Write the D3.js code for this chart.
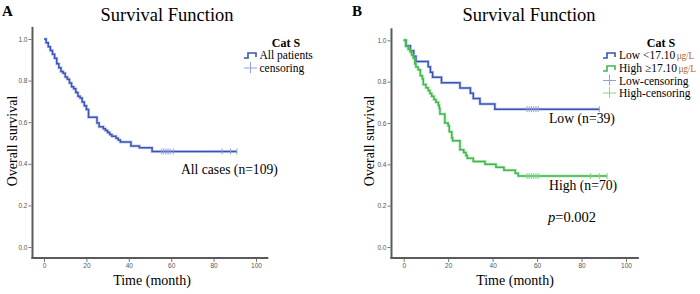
<!DOCTYPE html>
<html>
<head>
<meta charset="utf-8">
<script src="https://cdn.jsdelivr.net/npm/d3@7"></script>
<style>
  html, body { margin: 0; padding: 0; background: #fff; }
  svg { display: block; }
</style>
</head>
<body>
<svg id="chart" width="700" height="294"></svg>
<script>
// ---------------- DATA ----------------
const xTicks = [0, 20, 40, 60, 80, 100];
const yTicks = [0.0, 0.2, 0.4, 0.6, 0.8, 1.0];

// Panel A: all patients (n=109)
const allTimes = [0,1,2,3,4,5,6,7,8,9,10,11,12,13,14,15,16,17,18,19,20,21,25,26,28,29,30,31,32,34,35,36,41,45,51,91];
const allSurv  = [1,0.982,0.963,0.945,0.927,0.908,0.881,0.862,0.844,0.835,0.817,0.807,0.789,0.771,0.761,0.743,0.725,0.716,0.697,0.679,0.661,0.624,0.596,0.578,0.569,0.560,0.550,0.541,0.532,0.523,0.514,0.505,0.486,0.477,0.459,0.459];
const allCensor = [55.5,56.5,57.5,58.5,59.5,61,84,88,91];

// Panel B: Low group (n=39)
const lowTimes = [0,1,3,4.5,5.5,11,12,13,17,25.3,30,31.3,34.3,41,88];
const lowSurv  = [1,0.974,0.949,0.923,0.897,0.872,0.846,0.821,0.795,0.769,0.744,0.718,0.692,0.667,0.667];
const lowCensor = [55.5,56.5,57.5,58.5,59.5,60.5,88];

// Panel B: High group (n=70)
const highTimes = [0,1,2,3,3.6,4.3,5,5.5,6.5,7.5,8.4,8.8,10,11,11.8,12.6,13.6,14.5,15.6,16,16.3,18.5,20,20.5,21.6,22,25.3,27,28,28.6,31.3,36.6,41.5,45.1,50.2,51.5,91.5];
const highSurv  = [1,0.971,0.957,0.943,0.929,0.914,0.886,0.871,0.857,0.829,0.814,0.786,0.771,0.757,0.743,0.729,0.714,0.700,0.686,0.671,0.643,0.600,0.586,0.557,0.529,0.514,0.471,0.457,0.443,0.429,0.414,0.400,0.386,0.371,0.357,0.343,0.343];
const highCensor = [55.5,56.5,57.5,58.5,59.5,60.5,84,88,91.5];

// ---------------- DRAW ----------------
const SERIF = "'Liberation Serif','Times New Roman',serif";
const SANS = "'Liberation Sans',Arial,sans-serif";
const BLUE = "#3a54b4", BLUE_L = "#8fa0dd";
const GREEN = "#3cba48", GREEN_L = "#86d48e";

const svg = d3.select("#chart");

function survAt(times, surv, t) {
  const i = d3.bisectRight(times, t) - 1;
  return surv[Math.max(0, i)];
}

function panel(cfg) {
  const x = d3.scaleLinear().domain([0, 100]).range(cfg.xRange);
  const y = d3.scaleLinear().domain([0, 1]).range(cfg.yRange);
  const g = svg.append("g");

  const axisX = cfg.axisX, axisY = cfg.axisY;
  g.append("line").attr("x1", axisX).attr("x2", axisX)
    .attr("y1", y(1.058)).attr("y2", axisY + 1)
    .attr("stroke", "#5a5a5a").attr("stroke-width", 2);
  g.append("line").attr("x1", axisX - 1).attr("x2", x(105.8))
    .attr("y1", axisY).attr("y2", axisY)
    .attr("stroke", "#5a5a5a").attr("stroke-width", 2);

  const ya = g.append("g").attr("transform", `translate(${axisX - 1},0)`)
    .call(d3.axisLeft(y).tickValues(yTicks).tickFormat(d3.format(".1f")).tickSize(3).tickPadding(1));
  ya.select(".domain").remove();
  ya.selectAll("line").attr("stroke", "#777");
  ya.selectAll("text").attr("font-family", SANS).attr("font-size", 6.5).attr("fill", "#555");

  const xa = g.append("g").attr("transform", `translate(0,${axisY + 1})`)
    .call(d3.axisBottom(x).tickValues(xTicks).tickFormat(d3.format("d")).tickSize(3).tickPadding(1.5));
  xa.select(".domain").remove();
  xa.selectAll("line").attr("stroke", "#777");
  xa.selectAll("text").attr("font-family", SANS).attr("font-size", 6.5).attr("fill", "#555");

  const line = d3.line().x(d => x(d[0])).y(d => y(d[1])).curve(d3.curveStepAfter);
  cfg.series.forEach(s => {
    const pts = s.times.map((t, i) => [t, s.surv[i]]);
    g.append("path").attr("d", line(pts)).attr("fill", "none")
      .attr("stroke", s.light).attr("stroke-width", 3).attr("stroke-opacity", 0.5);
    g.append("path").attr("d", line(pts)).attr("fill", "none")
      .attr("stroke", s.color).attr("stroke-width", 1.5);
    g.selectAll(null).data(s.censor).enter().append("line")
      .attr("x1", d => x(d)).attr("x2", d => x(d))
      .attr("y1", d => y(survAt(s.times, s.surv, d)) - 3)
      .attr("y2", d => y(survAt(s.times, s.surv, d)) + 3)
      .attr("stroke", s.light).attr("stroke-width", 1);
  });

  svg.append("text").attr("x", cfg.letterX).attr("y", 16).text(cfg.letter)
    .attr("font-family", SERIF).attr("font-weight", "bold").attr("font-size", 15);
  svg.append("text").attr("x", cfg.titleX).attr("y", 21).attr("text-anchor", "middle")
    .text("Survival Function").attr("font-family", SERIF).attr("font-size", 18.5);
  svg.append("text").attr("transform", `translate(${cfg.ylabX},141) rotate(-90)`)
    .attr("text-anchor", "middle").text("Overall survival")
    .attr("font-family", SERIF).attr("font-size", 14);
  svg.append("text").attr("x", cfg.xlabX).attr("y", 285).attr("text-anchor", "middle")
    .text("Time (month)").attr("font-family", SERIF).attr("font-size", 14);

  const lg = svg.append("g");
  lg.append("text").attr("x", cfg.catX).attr("y", 46.5).attr("text-anchor", "middle")
    .text("Cat S").attr("font-family", SERIF).attr("font-weight", "bold").attr("font-size", 12);
  cfg.legend.forEach((it, i) => {
    const yy = cfg.legY[i];
    const ix = cfg.iconX;
    if (it.type === "line") {
      lg.append("path")
        .attr("d", `M${ix},${yy - 1} H${ix + 4} V${yy - 6} H${ix + 12} V${yy - 2}`)
        .attr("fill", "none").attr("stroke", it.color).attr("stroke-width", 1.6);
    } else {
      lg.append("line").attr("x1", ix).attr("x2", ix + 13).attr("y1", yy - 4).attr("y2", yy - 4)
        .attr("stroke", it.color).attr("stroke-width", 1);
      lg.append("line").attr("x1", ix + 6.5).attr("x2", ix + 6.5).attr("y1", yy - 10).attr("y2", yy + 1)
        .attr("stroke", it.color).attr("stroke-width", 1);
    }
    const t = lg.append("text").attr("x", cfg.textX).attr("y", yy)
      .attr("font-family", SERIF).attr("font-size", 11.5);
    t.append("tspan").text(it.label);
    if (it.unit) t.append("tspan").attr("dx", 1.5).text(it.unit)
      .attr("fill", "#b06a28").attr("font-size", 9.5).attr("letter-spacing", -0.3);
  });

  cfg.notes.forEach(n => {
    const t = svg.append("text").attr("x", n.x).attr("y", n.y)
      .attr("font-family", SERIF).attr("font-size", n.size);
    if (n.italic) t.append("tspan").attr("font-style", "italic").text(n.italic);
    t.append("tspan").text(n.text);
  });
}

panel({
  xRange: [44, 256], yRange: [247, 39], axisX: 32.5, axisY: 258,
  letter: "A", letterX: 2, titleX: 167, ylabX: 16.5, xlabX: 152,
  catX: 286, iconX: 244, textX: 259.5, legY: [59, 72],
  legend: [
    { type: "line", color: BLUE, label: "All patients" },
    { type: "plus", color: BLUE_L, label: "censoring" }
  ],
  series: [
    { times: allTimes, surv: allSurv, censor: allCensor, color: BLUE, light: BLUE_L }
  ],
  notes: [ { x: 181, y: 174, size: 13.6, text: "All cases (n=109)" } ]
});

panel({
  xRange: [403.7, 626], yRange: [247, 40.3], axisX: 391.5, axisY: 258,
  letter: "B", letterX: 352, titleX: 529, ylabX: 373.5, xlabX: 515,
  catX: 661, iconX: 603, textX: 619, legY: [59, 72, 84.5, 97],
  legend: [
    { type: "line", color: BLUE, label: "Low <17.10", unit: "\u03bcg/L" },
    { type: "line", color: GREEN, label: "High \u226517.10", unit: "\u03bcg/L" },
    { type: "plus", color: BLUE_L, label: "Low-censoring" },
    { type: "plus", color: GREEN_L, label: "High-censoring" }
  ],
  series: [
    { times: lowTimes, surv: lowSurv, censor: lowCensor, color: BLUE, light: BLUE_L },
    { times: highTimes, surv: highSurv, censor: highCensor, color: GREEN, light: GREEN_L }
  ],
  notes: [
    { x: 549, y: 123, size: 13.7, text: "Low (n=39)" },
    { x: 549, y: 190, size: 13.7, text: "High (n=70)" },
    { x: 548, y: 221.5, size: 14.5, italic: "p", text: "=0.002" }
  ]
});
</script>
</body>
</html>
